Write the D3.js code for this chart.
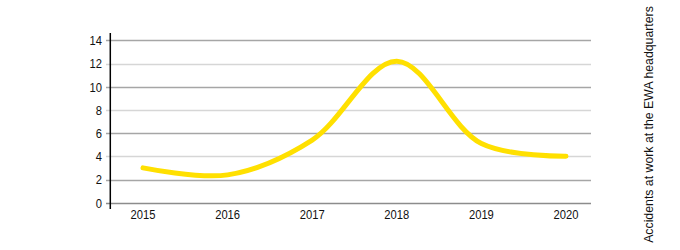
<!DOCTYPE html>
<html><head><meta charset="utf-8">
<script src="https://cdn.jsdelivr.net/npm/d3@7"></script>
<style>body{margin:0;background:#fff}svg{display:block}</style>
</head><body>
<svg id="c" width="680" height="250"></svg>
<script>
const years = ["2015","2016","2017","2018","2019","2020"];
const accidents = [3.0, 2.4, 5.4, 12.2, 5.1, 4.0];
const yTicks = [0,2,4,6,8,10,12,14];
const title = "Accidents at work at the EWA headquarters";

const svg = d3.select("#c");
const x = d3.scalePoint().domain(years).range([143, 566]);
const y = d3.scaleLinear().domain([0,14]).range([202.7, 40.3]);
const left = 110.3, right = 591;

// gridlines
svg.append("g").selectAll("line").data(yTicks).join("line")
  .attr("x1", 106).attr("x2", right)
  .attr("y1", d => Math.round(y(d))+0.5).attr("y2", d => Math.round(y(d))+0.5)
  .attr("stroke", d => d === 0 ? "#8c8c8c" : (d % 4 === 0 ? "#d6d6d6" : "#a6a6a6"))
  .attr("stroke-width", 1.5);

// y axis line
svg.append("line").attr("x1", left).attr("x2", left).attr("y1", 33).attr("y2", 209)
  .attr("stroke", "#000").attr("stroke-width", 1.5);

const font = "'Liberation Sans',Arial,sans-serif";
svg.append("g").selectAll("text").data(yTicks).join("text")
  .attr("transform", d => `translate(102,${y(d)}) scale(0.83,1)`).attr("dy", "0.36em")
  .attr("text-anchor", "end").attr("font-family", font).attr("font-size", 13.5)
  .attr("fill", "#111").text(d => d);

svg.append("g").selectAll("text").data(years).join("text")
  .attr("transform", d => `translate(${x(d)},218.5) scale(0.83,1)`)
  .attr("text-anchor", "middle").attr("font-family", font).attr("font-size", 13.5)
  .attr("fill", "#111").text(d => d);

const line = d3.line().x((d,i) => x(years[i])).y(d => y(d)).curve(d3.curveCatmullRom.alpha(0.5));
svg.append("path").datum(accidents).attr("d", line)
  .attr("fill", "none").attr("stroke", "#ffe000").attr("stroke-width", 5)
  .attr("stroke-linecap", "round").attr("stroke-linejoin", "round");

svg.append("text").attr("transform", "translate(653,124.5) rotate(-90)")
  .attr("text-anchor", "middle").attr("font-family", font)
  .attr("font-size", 12.3).attr("fill", "#111").text(title);
</script>
</body></html>
